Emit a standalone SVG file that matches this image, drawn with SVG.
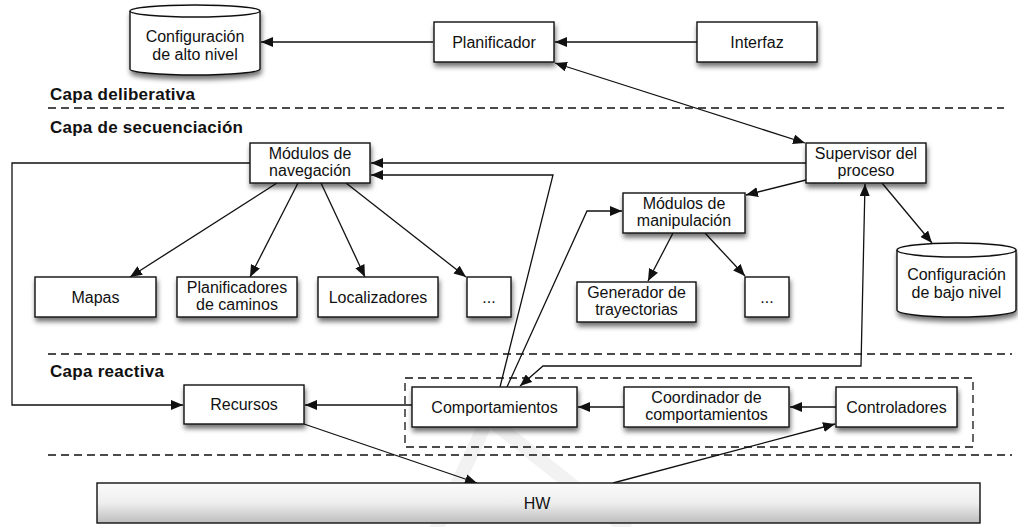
<svg xmlns="http://www.w3.org/2000/svg" width="1018" height="527" viewBox="0 0 1018 527">
  <style>
    .box { fill: #ffffff; stroke: #111; stroke-width: 1.4; filter: url(#shadow); }
    .lbl { font-family: "Liberation Sans", Arial, sans-serif; font-size: 16px; fill: #111; text-anchor: middle; }
    .layer { font-family: "Liberation Sans", Arial, sans-serif; font-size: 17px; font-weight: bold; fill: #111; }
    .sep { stroke: #111; stroke-width: 1.3; stroke-dasharray: 8 5; fill: none; }
    .conn path, .conn line, .conn polyline { stroke: #111; stroke-width: 1.3; fill: none; }
    .arr { marker-end: url(#ah); }
    .both { marker-start: url(#ah); marker-end: url(#ah); }
  </style>
  <defs>
    <filter id="shadow" x="-20%" y="-20%" width="140%" height="160%">
      <feDropShadow dx="1" dy="4" stdDeviation="2.5" flood-color="#000" flood-opacity="0.55"/>
    </filter>
    <marker id="ah" viewBox="0 0 12 10" refX="12" refY="5" markerWidth="12" markerHeight="10" orient="auto-start-reverse" markerUnits="userSpaceOnUse">
      <path d="M0,0 L12,5 L0,10 z" fill="#111"/>
    </marker>
    <linearGradient id="hwGrad" x1="0" y1="0" x2="0" y2="1">
      <stop offset="0" stop-color="#fbfbfb"/>
      <stop offset="0.5" stop-color="#eeeeee"/>
      <stop offset="1" stop-color="#bdbdbd"/>
    </linearGradient>
  </defs>

  <rect width="1018" height="527" fill="#ffffff"/>

  <!-- faint background mark -->
  <path d="M436,530 L488,418 L628,530" fill="none" stroke="#000" stroke-opacity="0.05" stroke-width="14"/>

  <!-- layer separators -->
  <g id="layers">
    <line class="sep" x1="48" y1="108" x2="1004" y2="108"/>
    <line class="sep" x1="48" y1="354" x2="1012" y2="354"/>
    <line class="sep" x1="48" y1="455" x2="1012" y2="455"/>
    <rect class="sep" x="405" y="378" width="568" height="69"/>
    <text class="layer" x="50" y="100" textLength="145" lengthAdjust="spacing">Capa deliberativa</text>
    <text class="layer" x="50" y="133" textLength="193" lengthAdjust="spacing">Capa de secuenciación</text>
    <text class="layer" x="50" y="377" textLength="114" lengthAdjust="spacing">Capa reactiva</text>
  </g>

  <!-- connectors -->
  <g id="connectors" class="conn">
    <line class="arr" x1="433" y1="42" x2="261" y2="42"/>
    <line class="arr" x1="697" y1="42" x2="555" y2="42"/>
    <line class="both" x1="555" y1="63" x2="805" y2="143"/>
    <line class="arr" x1="806" y1="163" x2="371" y2="163"/>
    <polyline class="arr" points="500,387 553,175 371,175"/>
    <polyline class="arr" points="250,163 12,163 12,405 183,405"/>
    <line class="arr" x1="277" y1="183" x2="130" y2="277"/>
    <line class="arr" x1="298" y1="183" x2="250" y2="277"/>
    <line class="arr" x1="321" y1="183" x2="365" y2="277"/>
    <line class="arr" x1="346" y1="183" x2="466" y2="277"/>
    <line class="arr" x1="806" y1="180" x2="746" y2="195"/>
    <polyline class="arr" points="507,387 587,211 622,211"/>
    <line class="arr" x1="673" y1="233" x2="648" y2="281"/>
    <line class="arr" x1="705" y1="233" x2="745" y2="276"/>
    <line class="arr" x1="882" y1="183" x2="932" y2="243"/>
    <polyline class="both" points="520,386 543,366 861,366 865,184"/>
    <line class="arr" x1="412" y1="405" x2="305" y2="405"/>
    <line class="arr" x1="624" y1="407" x2="578" y2="407"/>
    <line class="arr" x1="836" y1="407" x2="790" y2="407"/>
    <line class="arr" x1="304" y1="424" x2="477" y2="483"/>
    <line class="arr" x1="613" y1="483" x2="835" y2="424"/>
  </g>

  <!-- deliberative layer -->
  <g id="cfg-alto">
    <path class="box" d="M130,11 A65,6 0 0 1 260,11 L260,69 A65,6 0 0 1 130,69 Z"/>
    <path d="M130,11 A65,6 0 0 0 260,11" fill="none" stroke="#111" stroke-width="1.4"/>
    <text class="lbl" x="195" y="42">Configuración</text>
    <text class="lbl" x="195" y="60">de alto nivel</text>
  </g>
  <g id="planificador">
    <rect class="box" x="434" y="22" width="120" height="40"/>
    <text class="lbl" x="494" y="47.5">Planificador</text>
  </g>
  <g id="interfaz">
    <rect class="box" x="697" y="22" width="120" height="40"/>
    <text class="lbl" x="757" y="47.5">Interfaz</text>
  </g>

  <!-- sequencing layer -->
  <g id="nav">
    <rect class="box" x="250" y="143" width="120" height="40"/>
    <text class="lbl" x="310" y="158.5">Módulos de</text>
    <text class="lbl" x="310" y="176">navegación</text>
  </g>
  <g id="supervisor">
    <rect class="box" x="806" y="143" width="120" height="40"/>
    <text class="lbl" x="866" y="158.5">Supervisor del</text>
    <text class="lbl" x="866" y="176">proceso</text>
  </g>
  <g id="manip">
    <rect class="box" x="623" y="193" width="122" height="40"/>
    <text class="lbl" x="684" y="208.5">Módulos de</text>
    <text class="lbl" x="684" y="226">manipulación</text>
  </g>
  <g id="mapas">
    <rect class="box" x="35" y="277" width="121" height="40"/>
    <text class="lbl" x="95.5" y="302.5">Mapas</text>
  </g>
  <g id="planif-caminos">
    <rect class="box" x="177" y="277" width="120" height="40"/>
    <text class="lbl" x="237" y="292.5">Planificadores</text>
    <text class="lbl" x="237" y="310">de caminos</text>
  </g>
  <g id="localizadores">
    <rect class="box" x="318" y="277" width="120" height="40"/>
    <text class="lbl" x="378" y="302.5">Localizadores</text>
  </g>
  <g id="nav-more">
    <rect class="box" x="467" y="277" width="44" height="40"/>
    <text class="lbl" x="489" y="302.5">...</text>
  </g>
  <g id="generador">
    <rect class="box" x="577" y="282" width="119" height="40"/>
    <text class="lbl" x="636.5" y="297.5">Generador de</text>
    <text class="lbl" x="636.5" y="315">trayectorias</text>
  </g>
  <g id="manip-more">
    <rect class="box" x="745" y="277" width="44" height="40"/>
    <text class="lbl" x="767" y="302.5">...</text>
  </g>
  <g id="cfg-bajo">
    <path class="box" d="M897,250 A59.5,7 0 0 1 1016,250 L1016,310 A59.5,7 0 0 1 897,310 Z"/>
    <path d="M897,250 A59.5,7 0 0 0 1016,250" fill="none" stroke="#111" stroke-width="1.4"/>
    <text class="lbl" x="956.5" y="280">Configuración</text>
    <text class="lbl" x="956.5" y="298">de bajo nivel</text>
  </g>

  <!-- reactive layer -->
  <g id="recursos">
    <rect class="box" x="184" y="385" width="120" height="39"/>
    <text class="lbl" x="244" y="410">Recursos</text>
  </g>
  <g id="comportamientos">
    <rect class="box" x="412" y="387" width="165" height="40"/>
    <text class="lbl" x="494.5" y="412.5">Comportamientos</text>
  </g>
  <g id="coordinador">
    <rect class="box" x="624" y="387" width="165" height="40"/>
    <text class="lbl" x="706.5" y="402.5">Coordinador de</text>
    <text class="lbl" x="706.5" y="420">comportamientos</text>
  </g>
  <g id="controladores">
    <rect class="box" x="836" y="387" width="121" height="40"/>
    <text class="lbl" x="896.5" y="412.5">Controladores</text>
  </g>

  <!-- hardware -->
  <g id="hw">
    <rect x="97" y="483" width="883" height="40" fill="url(#hwGrad)" stroke="#111" stroke-width="1.4"/>
    <text class="lbl" x="537" y="508.5">HW</text>
  </g>
</svg>
